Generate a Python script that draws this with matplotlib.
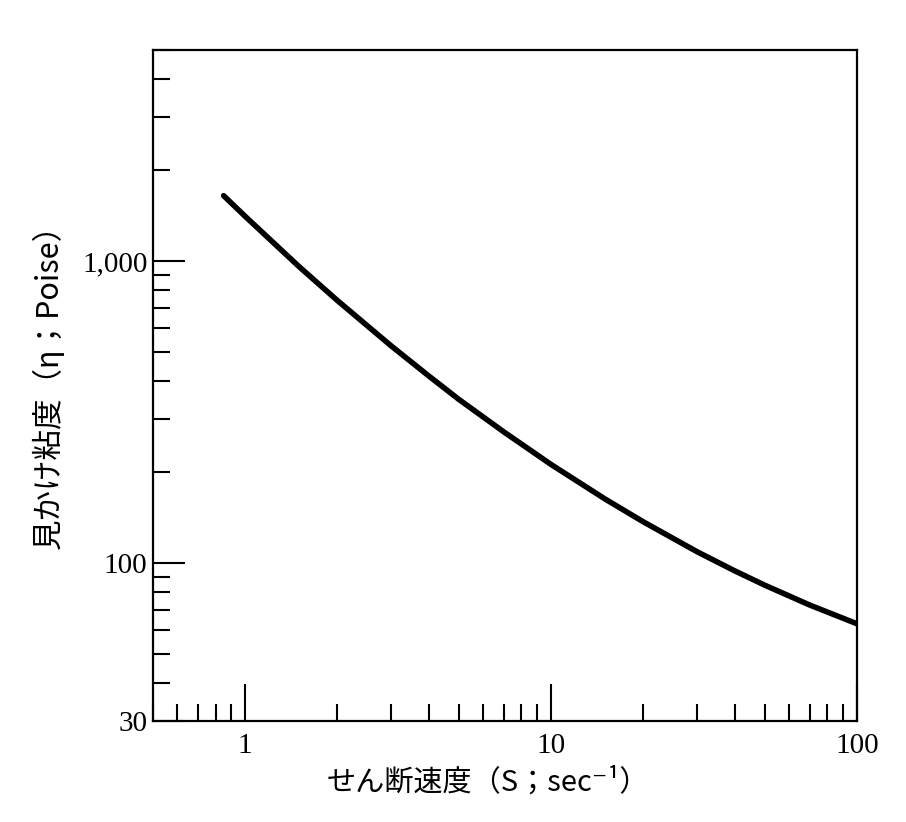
import matplotlib
matplotlib.use('Agg')
import matplotlib.pyplot as plt
from matplotlib.ticker import FixedLocator, FixedFormatter, LogLocator, NullFormatter

# values (shear rate in 1/sec, apparent viscosity in Poise)
shear_rate = [0.85, 1, 1.5, 2, 3, 4, 5, 7, 10, 15, 20, 30, 40, 50, 70, 100]
viscosity = [1648, 1407, 959, 741, 524, 415, 348, 272, 212, 163, 137, 109, 94, 84.4, 72.6, 62.9]

xticks = [1, 10, 100]
xticklabels = ['1', '10', '100']
yticks = [30, 100, 1000]
yticklabels = ['30', '100', '1,000']

jp = ['Noto Sans CJK JP', 'DejaVu Sans']
plt.rcParams['font.family'] = ['Liberation Serif']

fig = plt.figure(figsize=(9.06, 8.22), dpi=100)
ax = fig.add_axes([0.169, 0.123, 0.777, 0.816])

ax.plot(shear_rate, viscosity, color='black', linewidth=4, solid_capstyle='round',
        solid_joinstyle='round')

ax.set_xscale('log')
ax.set_yscale('log')
ax.set_xlim(0.5, 100)
ax.set_ylim(30, 5000)

ax.xaxis.set_major_locator(FixedLocator(xticks))
ax.xaxis.set_major_formatter(FixedFormatter(xticklabels))
ax.xaxis.set_minor_locator(LogLocator(base=10, subs=range(2, 10), numticks=20))
ax.xaxis.set_minor_formatter(NullFormatter())
ax.yaxis.set_major_locator(FixedLocator(yticks))
ax.yaxis.set_major_formatter(FixedFormatter(yticklabels))
ax.yaxis.set_minor_locator(LogLocator(base=10, subs=range(2, 10), numticks=20))
ax.yaxis.set_minor_formatter(NullFormatter())

ax.tick_params(axis='both', which='both', direction='in', width=1.5,
               top=False, right=False, labelsize=21)
ax.tick_params(axis='x', which='major', length=27, pad=9)
ax.tick_params(axis='y', which='major', length=23, pad=4)
ax.tick_params(axis='both', which='minor', length=12)

for s in ax.spines.values():
    s.set_linewidth(1.6)

ax.set_xlabel('せん断速度（S；sec⁻¹）', family=jp, fontsize=21)
ax.set_ylabel('見かけ粘度（η；Poise）', family=jp, fontsize=22)
ax.xaxis.set_label_coords(0.476, -0.07)
ax.yaxis.set_label_coords(-0.125, 0.51)

fig.savefig('out.png', dpi=100)
